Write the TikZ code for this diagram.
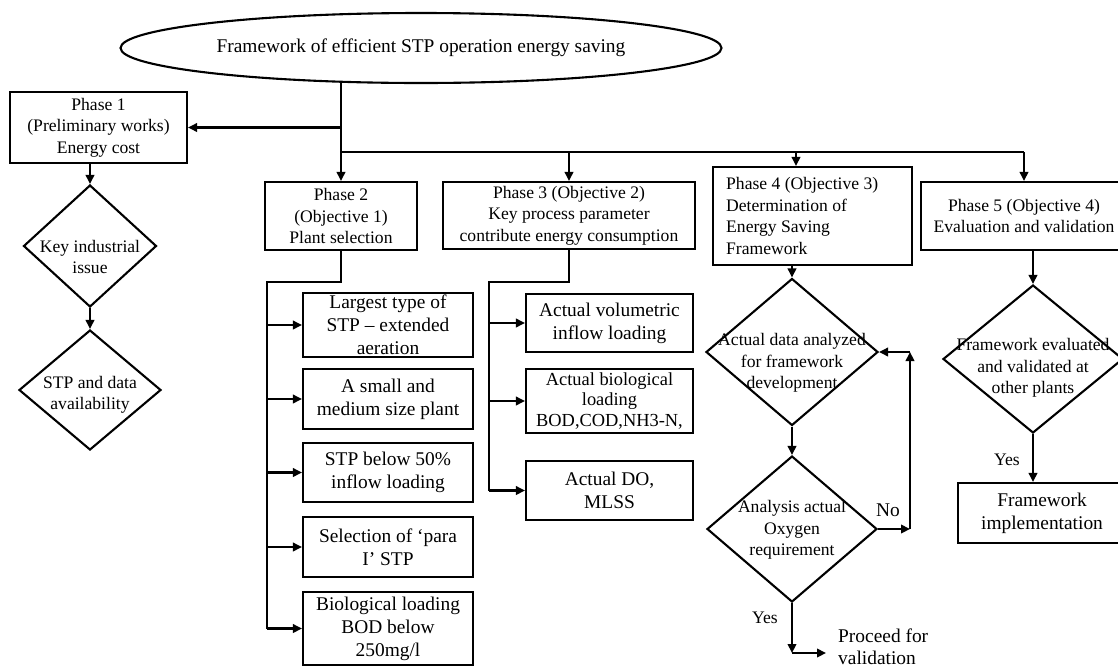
\documentclass[tikz,border=0pt]{standalone}
\usepackage{fontspec}
\setmainfont{Liberation Serif}
\usetikzlibrary{shapes.geometric,arrows.meta,calc}
\newcommand\fsA{\fontsize{17.6}{21.5}\selectfont}
\newcommand\fsB{\fontsize{19.4}{23}\selectfont}
\newcommand\fsC{\fontsize{18.4}{20.5}\selectfont}
\newcommand\fsD{\fontsize{19.4}{21.5}\selectfont}
\begin{document}
\begin{tikzpicture}[x=1pt,y=-1pt,
  ln/.style={line width=2.1pt},
  arr/.style={ln,-{Triangle[length=9pt,width=8.5pt]}},
  box/.style={draw,line width=2.1pt,inner sep=0pt,align=center,font=\fsA},
  sbox/.style={box,font=\fsB,minimum width=170pt},
  tbox/.style={box,font=\fsB,minimum width=167pt},
  dia/.style={draw,diamond,line width=2.1pt,inner sep=0pt},
  dtxt/.style={align=center,font=\fsA,inner sep=0pt},
  lbl/.style={font=\fsA,inner sep=0pt}]
\clip (0,0) rectangle (1118,670);
\fill[white] (0,0) rectangle (1118,670);
% top
\node[draw,ellipse,line width=2.1pt,minimum width=601pt,minimum height=70pt,inner sep=0pt,font=\fsB] (ell) at (421,48) {Framework of efficient STP operation energy saving};
\node[box,minimum width=177pt,minimum height=71pt] (p1) at (98.5,127.5) {Phase 1\\(Preliminary works)\\Energy cost};
\node[box,minimum width=152pt,minimum height=68pt] (p2) at (341,216) {Phase 2\\(Objective 1)\\Plant selection};
\node[box,minimum width=252pt,minimum height=67pt] (p3) at (569,215.5) {Phase 3 (Objective 2)\\Key process parameter\\contribute energy consumption};
\node[box,minimum width=199pt,minimum height=98pt] (p4) at (812.5,216) {};
\node[font=\fsA,align=left,anchor=west,inner sep=0pt] (p4t) at (726,216) {Phase 4 (Objective 3)\\Determination of\\Energy Saving\\Framework};
\node[box,minimum width=206pt,minimum height=68pt] (p5) at (1024,216) {Phase 5 (Objective 4)\\Evaluation and validation};
% trunk and bus
\coordinate (t0) at (341,81.5);
\coordinate (bus0) at (341,152);
\coordinate (bus5) at (1024,152);
\draw[ln] (t0) -- (bus0) -- (bus5);
\draw[arr] (t0 |- p1.east) -- (p1.east);
\draw[arr] (bus0) -- (p2.north);
\draw[arr] (p3.north |- bus0) -- (p3.north);
\draw[arr] ([xshift=-16.5pt]p4.north |- bus0) -- ([xshift=-16.5pt]p4.north);
\draw[arr] (bus5) -- (p5.north);
% phase 1 column
\node[dia,minimum width=133pt,minimum height=122pt] (k1) at (90,246) {};
\node[dtxt] (k1t) at (90,257) {Key industrial\\issue};
\node[dia,minimum width=142pt,minimum height=120pt] (k2) at (90,390) {};
\node[dtxt] (k2t) at (90,395) {STP and data\\availability};
\draw[arr] (k1.north |- p1.south) -- (k1.north);
\draw[arr] (k1.south) -- (k2.north);
% phase 2 column
\node[sbox,minimum height=64pt] (sA) at (388,325) {Largest type of\\STP -- extended\\aeration};
\node[sbox,minimum height=60pt] (sB) at (388,399) {A small and\\medium size plant};
\node[sbox,minimum height=59pt] (sC) at (388,472.5) {STP below 50\%\\inflow loading};
\node[sbox,minimum height=60pt] (sD) at (388,547) {Selection of ‘para\\I’ STP};
\node[sbox,minimum height=73pt] (sE) at (388,628.5) {Biological loading\\BOD below\\250mg/l};
\coordinate (b2a) at (341,282);
\coordinate (b2b) at (267,282);
\draw[ln] (p2.south) -- (b2a) -- (b2b) -- (b2b |- sE.west);
\foreach \n in {sA,sB,sC,sD,sE}{\draw[arr] (b2b |- \n.west) -- (\n.west);}
% phase 3 column
\node[tbox,minimum height=58pt] (sF) at (609.5,323) {Actual volumetric\\inflow loading};
\node[tbox,minimum height=64pt,font=\fsC] (sG) at (609.5,401) {Actual biological\\loading\\BOD,COD,NH3-N,};
\node[tbox,minimum height=59pt] (sH) at (609.5,490.5) {Actual DO,\\MLSS};
\coordinate (b3a) at (569,282);
\coordinate (b3b) at (489,282);
\draw[ln] (p3.south) -- (b3a) -- (b3b) -- (b3b |- sH.west);
\foreach \n in {sF,sG,sH}{\draw[arr] (b3b |- \n.west) -- (\n.west);}
% phase 4 column
\node[dia,minimum width=172pt,minimum height=147pt] (d1) at (792,352) {};
\node[dtxt] (d1t) at (792,363) {Actual data analyzed\\for framework\\development};
\node[dia,minimum width=170pt,minimum height=146pt] (d2) at (792,529) {};
\node[dtxt] (d2t) at (792,530) {Analysis actual\\Oxygen\\requirement};
\draw[arr] (d1.north |- p4.south) -- (d1.north);
\draw[arr] (d1.south) -- (d2.north);
\coordinate (n1) at (910,529);
\coordinate (n2) at (910,352);
\draw[arr] (d2.east) -- (n1);
\draw[arr] (n1) -- (n2);
\draw[arr] (n2) -- (d1.east);
\node[lbl,font=\fsB] (no1) at (888,510) {No};
\coordinate (y1) at (792,653);
\coordinate (y2) at (826,653);
\draw[arr] (d2.south) -- (y1);
\draw[arr] (y1) -- (y2);
\node[lbl] (yes1) at (765,618) {Yes};
\node[lbl,font=\fsD,align=left,anchor=west] (pv) at (838,647) {Proceed for\\validation};
% phase 5 column
\node[dia,minimum width=180pt,minimum height=148pt] (d3) at (1033,359) {};
\node[dtxt] (d3t) at (1033,368) {Framework evaluated\\and validated at\\other plants};
\draw[arr] (d3.north |- p5.south) -- (d3.north);
\node[box,font=\fsB,minimum width=168pt,minimum height=60pt] (fw) at (1042,513) {Framework\\implementation};
\draw[arr] (d3.south) -- (d3.south |- fw.north);
\node[lbl] (yes2) at (1007,460) {Yes};
\end{tikzpicture}
\end{document}
